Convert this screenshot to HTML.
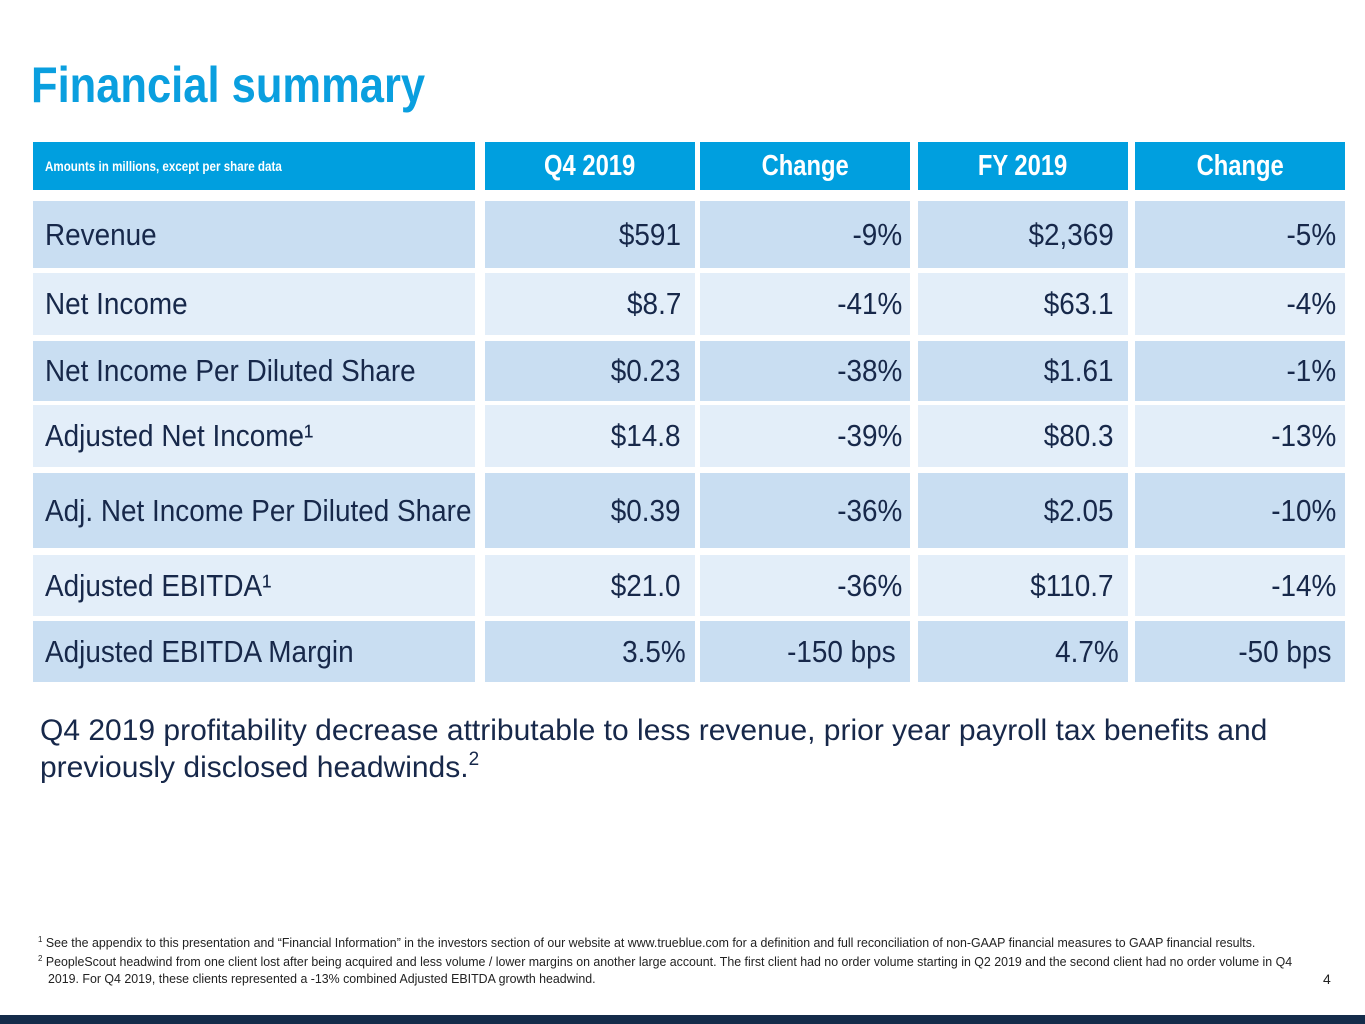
<!DOCTYPE html>
<html><head><meta charset="utf-8"><style>
body{margin:0;width:1365px;height:1024px;background:#fff;position:relative;overflow:hidden;font-family:"Liberation Sans",sans-serif;color:#17284a}
.a{position:absolute;box-sizing:border-box;display:flex;align-items:center}
.h{background:#009fdf;color:#fff;justify-content:center}
.h span{display:inline-block;font-weight:bold;font-size:29px;transform:scaleX(.82)}
.d{background:#c9def2}.l{background:#e3eef9}
.c span{display:inline-block;font-size:31px;transform:scaleX(.9);transform-origin:left center;white-space:nowrap}
.r{justify-content:flex-end;padding-right:14px}
.r span{display:inline-block;font-size:31px;transform:scaleX(.9);transform-origin:right center;white-space:nowrap}
.c{padding-left:12px}
.fn{position:absolute;left:38px;font-size:12.5px;white-space:nowrap;transform:scaleX(.99);transform-origin:left;color:#222}
</style></head><body>
<div style="position:absolute;left:31px;top:56px;font-size:50px;font-weight:bold;color:#0a9fdf;transform:scaleX(.87);transform-origin:left;white-space:nowrap">Financial summary</div>

<div class="a" style="left:33px;top:142px;width:442px;height:48px;background:#009fdf;color:#fff;padding-left:12px"><span style="font-size:13.5px;font-weight:bold;display:inline-block;transform:scaleX(.86);transform-origin:left;white-space:nowrap">Amounts in millions, except per share data</span></div>
<div class="a h" style="left:485px;top:142px;width:210px;height:48px"><span>Q4 2019</span></div>
<div class="a h" style="left:700px;top:142px;width:210px;height:48px"><span>Change</span></div>
<div class="a h" style="left:918px;top:142px;width:210px;height:48px"><span>FY 2019</span></div>
<div class="a h" style="left:1135px;top:142px;width:210px;height:48px"><span>Change</span></div>

<div class="a d c" style="left:33px;top:201px;width:442px;height:67px"><span>Revenue</span></div>
<div class="a d r" style="left:485px;top:201px;width:210px;height:67px"><span>$591</span></div>
<div class="a d r" style="left:700px;top:201px;width:210px;height:67px;padding-right:8px"><span>-9%</span></div>
<div class="a d r" style="left:918px;top:201px;width:210px;height:67px"><span>$2,369</span></div>
<div class="a d r" style="left:1135px;top:201px;width:210px;height:67px;padding-right:9px"><span>-5%</span></div>

<div class="a l c" style="left:33px;top:273px;width:442px;height:62px"><span>Net Income</span></div>
<div class="a l r" style="left:485px;top:273px;width:210px;height:62px"><span>$8.7</span></div>
<div class="a l r" style="left:700px;top:273px;width:210px;height:62px;padding-right:8px"><span>-41%</span></div>
<div class="a l r" style="left:918px;top:273px;width:210px;height:62px"><span>$63.1</span></div>
<div class="a l r" style="left:1135px;top:273px;width:210px;height:62px;padding-right:9px"><span>-4%</span></div>

<div class="a d c" style="left:33px;top:341px;width:442px;height:60px"><span>Net Income Per Diluted Share</span></div>
<div class="a d r" style="left:485px;top:341px;width:210px;height:60px"><span>$0.23</span></div>
<div class="a d r" style="left:700px;top:341px;width:210px;height:60px;padding-right:8px"><span>-38%</span></div>
<div class="a d r" style="left:918px;top:341px;width:210px;height:60px"><span>$1.61</span></div>
<div class="a d r" style="left:1135px;top:341px;width:210px;height:60px;padding-right:9px"><span>-1%</span></div>

<div class="a l c" style="left:33px;top:405px;width:442px;height:62px"><span>Adjusted Net Income¹</span></div>
<div class="a l r" style="left:485px;top:405px;width:210px;height:62px"><span>$14.8</span></div>
<div class="a l r" style="left:700px;top:405px;width:210px;height:62px;padding-right:8px"><span>-39%</span></div>
<div class="a l r" style="left:918px;top:405px;width:210px;height:62px"><span>$80.3</span></div>
<div class="a l r" style="left:1135px;top:405px;width:210px;height:62px;padding-right:9px"><span>-13%</span></div>

<div class="a d c" style="left:33px;top:473px;width:442px;height:75px"><span>Adj. Net Income Per Diluted Share</span></div>
<div class="a d r" style="left:485px;top:473px;width:210px;height:75px"><span>$0.39</span></div>
<div class="a d r" style="left:700px;top:473px;width:210px;height:75px;padding-right:8px"><span>-36%</span></div>
<div class="a d r" style="left:918px;top:473px;width:210px;height:75px"><span>$2.05</span></div>
<div class="a d r" style="left:1135px;top:473px;width:210px;height:75px;padding-right:9px"><span>-10%</span></div>

<div class="a l c" style="left:33px;top:555px;width:442px;height:61px"><span>Adjusted EBITDA¹</span></div>
<div class="a l r" style="left:485px;top:555px;width:210px;height:61px"><span>$21.0</span></div>
<div class="a l r" style="left:700px;top:555px;width:210px;height:61px;padding-right:8px"><span>-36%</span></div>
<div class="a l r" style="left:918px;top:555px;width:210px;height:61px"><span>$110.7</span></div>
<div class="a l r" style="left:1135px;top:555px;width:210px;height:61px;padding-right:9px"><span>-14%</span></div>

<div class="a d c" style="left:33px;top:621px;width:442px;height:61px"><span>Adjusted EBITDA Margin</span></div>
<div class="a d r" style="left:485px;top:621px;width:210px;height:61px;padding-right:9px"><span>3.5%</span></div>
<div class="a d r" style="left:700px;top:621px;width:210px;height:61px"><span>-150 bps</span></div>
<div class="a d r" style="left:918px;top:621px;width:210px;height:61px;padding-right:9px"><span>4.7%</span></div>
<div class="a d r" style="left:1135px;top:621px;width:210px;height:61px"><span>-50 bps</span></div>

<div style="position:absolute;left:40px;top:712px;font-size:30px;line-height:37px;color:#17284a;width:1320px;white-space:nowrap">Q4 2019 profitability decrease attributable to less revenue, prior year payroll tax benefits and<br>previously disclosed headwinds.<sup style="font-size:19px;line-height:0;vertical-align:12px">2</sup></div>

<div class="fn" style="top:935px"><sup style="font-size:8px">1</sup> See the appendix to this presentation and “Financial Information” in the investors section of our website at www.trueblue.com for a definition and full reconciliation of non-GAAP financial measures to GAAP financial results.</div>
<div class="fn" style="top:954px"><sup style="font-size:8px">2</sup> PeopleScout headwind from one client lost after being acquired and less volume / lower margins on another large account. The first client had no order volume starting in Q2 2019 and the second client had no order volume in Q4</div>
<div class="fn" style="top:972px;left:48px">2019. For Q4 2019, these clients represented a -13% combined Adjusted EBITDA growth headwind.</div>
<div style="position:absolute;left:1323px;top:971px;font-size:14px;color:#222">4</div>
<div style="position:absolute;left:0;top:1015px;width:1365px;height:9px;background:#142c4a"></div>
</body></html>
